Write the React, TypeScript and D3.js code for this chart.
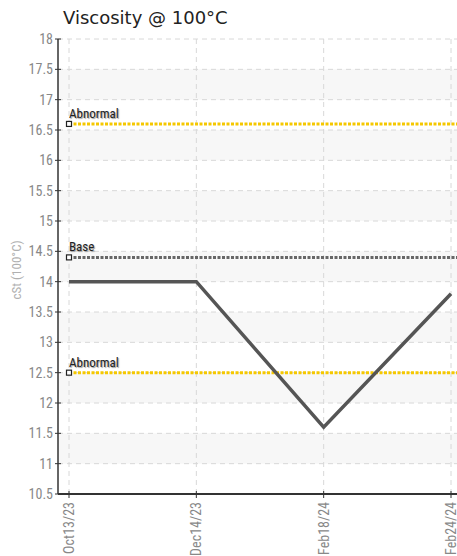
import * as d3 from 'd3';

const categories = ['Oct13/23', 'Dec14/23', 'Feb18/24', 'Feb24/24'];
const values = [14, 14, 11.6, 13.8];
const refLabels = ['Abnormal', 'Base', 'Abnormal'];
const refValues = [16.6, 14.4, 12.5];
const refColors = ['#f5c800', '#666666', '#f5c800'];
const yTicks = d3.range(10.5, 18.01, 0.5);

export default function App() {
  const W = 457;
  const H = 556;
  const left = 58;
  const right = 457;
  const top = 39;
  const bottom = 494;

  const x = d3.scalePoint<string>().domain(categories).range([69, 451]);
  const y = d3.scaleLinear().domain([10.5, 18]).range([bottom, top]);

  const line = d3
    .line<number>()
    .x((_, i) => x(categories[i])!)
    .y((d) => y(d));

  const font = "'Liberation Sans Narrow', 'Roboto Condensed', Roboto, sans-serif";

  return (
    <svg
      width={W}
      height={H}
      style={{ position: 'absolute', left: 0, top: 0, background: '#fff' }}
    >
      <text x={63} y={24} fontSize={18} fontFamily="'DejaVu Sans', sans-serif" fill="#222">
        Viscosity @ 100°C
      </text>

      {/* shaded bands */}
      {yTicks
        .filter((t) => t < 18 && Math.round(t * 2) % 2 === 0)
        .map((t) => (
          <rect
            key={t}
            x={left}
            y={y(t + 0.5)}
            width={right - left}
            height={y(t) - y(t + 0.5)}
            fill="#f7f7f7"
          />
        ))}

      {/* horizontal grid */}
      {yTicks.map((t) => (
        <line
          key={t}
          x1={left}
          x2={right}
          y1={y(t)}
          y2={y(t)}
          stroke="#d8d8d8"
          strokeDasharray="5,4"
        />
      ))}
      {/* vertical grid */}
      {categories.map((c) => (
        <line
          key={c}
          x1={x(c)}
          x2={x(c)}
          y1={top}
          y2={bottom}
          stroke="#d8d8d8"
          strokeDasharray="5,4"
        />
      ))}

      {/* y axis */}
      <line x1={left} x2={left} y1={top} y2={bottom} stroke="#333" strokeWidth={1.5} />
      {yTicks.map((t) => (
        <g key={t} transform={`translate(${left}, ${y(t)})`}>
          <line x1={-3} x2={3} stroke="#333" />
          <text
            x={-5}
            dy="0.35em"
            textAnchor="end"
            fontSize={14}
            fontFamily={font}
            fill="#888"
          >
            {t}
          </text>
        </g>
      ))}
      <text
        transform={`translate(21, 270) rotate(-90)`}
        textAnchor="middle"
        fontSize={13}
        fontFamily={font}
        fill="#b0b0b0"
      >
        cSt (100°C)
      </text>

      {/* reference lines */}
      {refValues.map((v, i) => (
        <g key={i}>
          <line
            x1={x(categories[0])}
            x2={right}
            y1={y(v)}
            y2={y(v)}
            stroke={refColors[i]}
            strokeWidth={3}
            strokeDasharray="3,1.5"
          />
          <rect
            x={x(categories[0])! - 2.5}
            y={y(v) - 2.5}
            width={5}
            height={5}
            fill="#fff"
            stroke="#222"
            strokeWidth={1.2}
          />
          <text
            x={x(categories[0])!}
            y={y(v) - 6}
            fontSize={13}
            fontFamily={font}
            fill="#222"
            style={{ textShadow: '1px 1px 1px #999' }}
          >
            {refLabels[i]}
          </text>
        </g>
      ))}

      {/* data line */}
      <path d={line(values) ?? ''} fill="none" stroke="#555" strokeWidth={3.5} />

      {/* x axis */}
      <line x1={left} x2={right} y1={bottom} y2={bottom} stroke="#333" strokeWidth={2} />
      {categories.map((c) => (
        <g key={c} transform={`translate(${x(c)}, ${bottom})`}>
          <line y1={-3} y2={4} stroke="#333" />
          <text
            transform="rotate(-90)"
            x={-8}
            dy="0.35em"
            textAnchor="end"
            fontSize={14}
            fontFamily={font}
            fill="#888"
          >
            {c}
          </text>
        </g>
      ))}
    </svg>
  );
}
